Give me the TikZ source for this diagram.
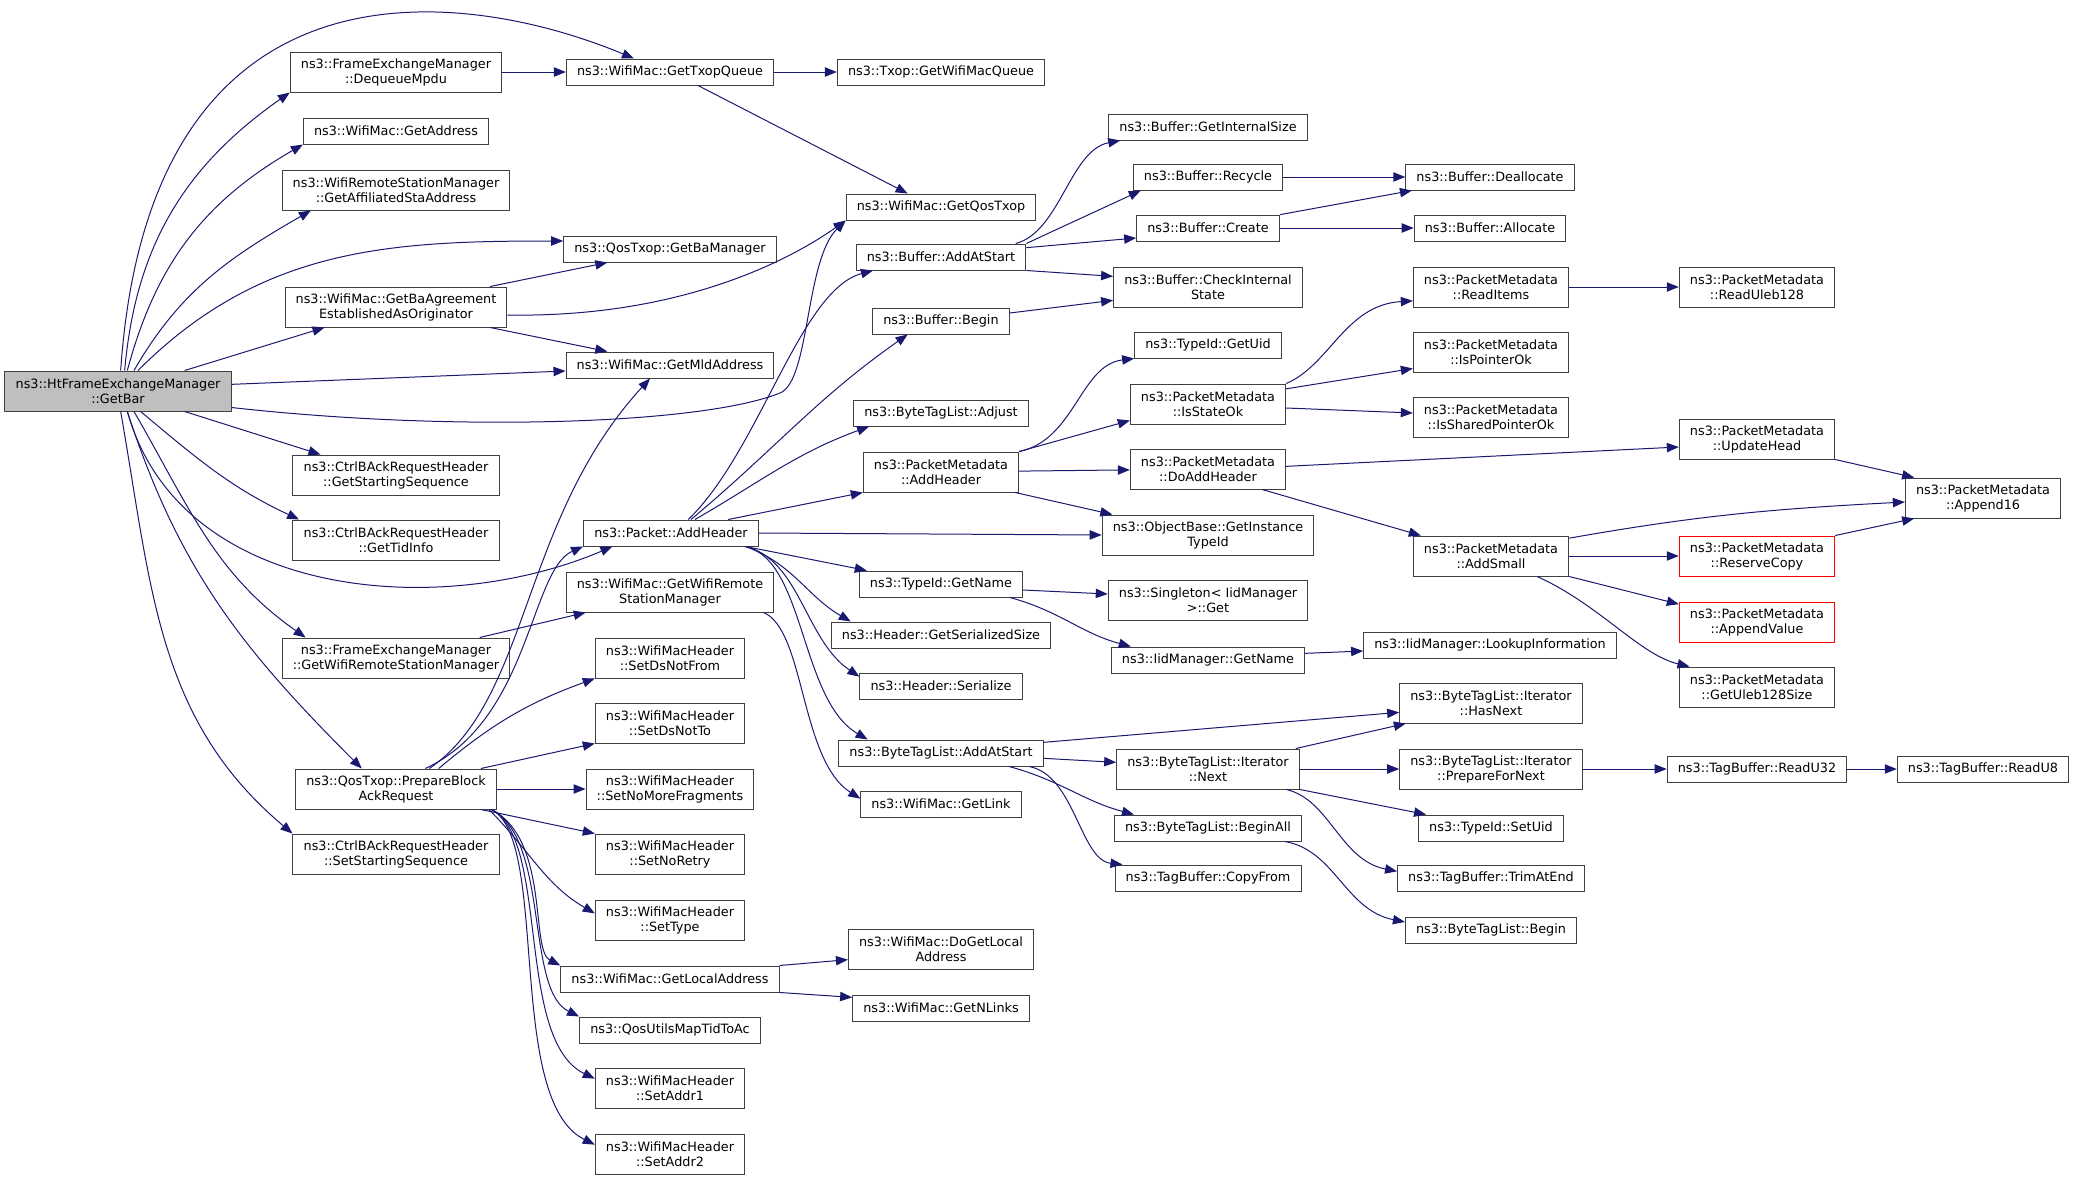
\documentclass[tikz,border=0pt]{standalone}
\usepackage{fontspec}
\setmainfont{DejaVu Sans}
\usetikzlibrary{arrows.meta}
\definecolor{edgeblue}{RGB}{25,25,112}
\definecolor{rootgray}{RGB}{191,191,191}
\newcommand\fnfont{\fontsize{9.6}{11.2}\selectfont}
\tikzset{
  fn/.style={draw=black!75, line width=0.75pt, fill=white, inner xsep=8pt, inner ysep=0pt, minimum height=19.5pt, align=center, font=\fnfont},
  fntwo/.style={fn, minimum height=30pt},
  rootfn/.style={fntwo, fill=rootgray},
  redfn/.style={fntwo, draw=red},
  call/.style={draw=edgeblue, line width=0.75pt, -{Triangle[length=9pt,width=7pt]}},
}

\begin{document}
\begin{tikzpicture}[x=0.75pt, y=-0.75pt]
			%%%%% START %%%%%
			\useasboundingbox (0,0) rectangle (2075,1178);

			\node[rootfn] (getbar) at (118,391) {ns3::HtFrameExchangeManager\\::GetBar};

			\node[fntwo] (dequeue) at (396,72) {ns3::FrameExchangeManager\\::DequeueMpdu};
			\node[fn] (getaddr) at (396,131) {ns3::WifiMac::GetAddress};
			\node[fntwo] (affil) at (396,190) {ns3::WifiRemoteStationManager\\::GetAffiliatedStaAddress};
			\node[fntwo] (baagr) at (396,307) {ns3::WifiMac::GetBaAgreement\\EstablishedAsOriginator};
			\node[fntwo] (getstart) at (396,475) {ns3::CtrlBAckRequestHeader\\::GetStartingSequence};
			\node[fntwo] (gettid) at (396,540) {ns3::CtrlBAckRequestHeader\\::GetTidInfo};
			\node[fntwo] (femwrsm) at (396,658) {ns3::FrameExchangeManager\\::GetWifiRemoteStationManager};
			\node[fntwo] (prepbar) at (396,789) {ns3::QosTxop::PrepareBlock\\AckRequest};
			\node[fntwo] (setstart) at (396,854) {ns3::CtrlBAckRequestHeader\\::SetStartingSequence};

			\node[fn] (txopq) at (670,72) {ns3::WifiMac::GetTxopQueue};
			\node[fn] (bamgr) at (670,249) {ns3::QosTxop::GetBaManager};
			\node[fn] (mldaddr) at (670,365) {ns3::WifiMac::GetMldAddress};
			\node[fn] (pktadd) at (671,533) {ns3::Packet::AddHeader};
			\node[fntwo] (macwrsm) at (670,592) {ns3::WifiMac::GetWifiRemote\\StationManager};
			\node[fntwo] (dsfrom) at (670,658) {ns3::WifiMacHeader\\::SetDsNotFrom};
			\node[fntwo] (dsto) at (670,723) {ns3::WifiMacHeader\\::SetDsNotTo};
			\node[fntwo] (nomore) at (670,789) {ns3::WifiMacHeader\\::SetNoMoreFragments};
			\node[fntwo] (noretry) at (670,854) {ns3::WifiMacHeader\\::SetNoRetry};
			\node[fntwo] (settype) at (670,920) {ns3::WifiMacHeader\\::SetType};
			\node[fn] (localaddr) at (670,979) {ns3::WifiMac::GetLocalAddress};
			\node[fn] (maptid) at (670,1030) {ns3::QosUtilsMapTidToAc};
			\node[fntwo] (addr1) at (670,1088) {ns3::WifiMacHeader\\::SetAddr1};
			\node[fntwo] (addr2) at (670,1154) {ns3::WifiMacHeader\\::SetAddr2};

			\node[fn] (macq) at (941,72) {ns3::Txop::GetWifiMacQueue};
			\node[fn] (qostxop) at (941,207) {ns3::WifiMac::GetQosTxop};
			\node[fn] (bufadd) at (941,257) {ns3::Buffer::AddAtStart};
			\node[fn] (bufbegin) at (941,321) {ns3::Buffer::Begin};
			\node[fn] (adjust) at (941,413) {ns3::ByteTagList::Adjust};
			\node[fntwo] (pmadd) at (941,472) {ns3::PacketMetadata\\::AddHeader};
			\node[fn] (getname) at (941,584) {ns3::TypeId::GetName};
			\node[fn] (sersize) at (941,635) {ns3::Header::GetSerializedSize};
			\node[fn] (serialize) at (941,686) {ns3::Header::Serialize};
			\node[fn] (btladd) at (941,753) {ns3::ByteTagList::AddAtStart};
			\node[fn] (getlink) at (941,804) {ns3::WifiMac::GetLink};
			\node[fntwo] (dolocal) at (941,949) {ns3::WifiMac::DoGetLocal\\Address};
			\node[fn] (nlinks) at (941,1008) {ns3::WifiMac::GetNLinks};

			\node[fn] (intsize) at (1208,127) {ns3::Buffer::GetInternalSize};
			\node[fn] (recycle) at (1208,177) {ns3::Buffer::Recycle};
			\node[fn] (create) at (1208,228) {ns3::Buffer::Create};
			\node[fntwo] (checkst) at (1208,287) {ns3::Buffer::CheckInternal\\State};
			\node[fn] (getuid) at (1208,345) {ns3::TypeId::GetUid};
			\node[fntwo] (stateok) at (1208,404) {ns3::PacketMetadata\\::IsStateOk};
			\node[fntwo] (doadd) at (1208,469) {ns3::PacketMetadata\\::DoAddHeader};
			\node[fntwo] (insttype) at (1208,535) {ns3::ObjectBase::GetInstance\\TypeId};
			\node[fntwo] (singget) at (1208,600) {ns3::Singleton< IidManager\\>::Get};
			\node[fn] (iidname) at (1208,660) {ns3::IidManager::GetName};
			\node[fntwo] (itnext) at (1208,769) {ns3::ByteTagList::Iterator\\::Next};
			\node[fn] (beginall) at (1208,828) {ns3::ByteTagList::BeginAll};
			\node[fn] (copyfrom) at (1208,878) {ns3::TagBuffer::CopyFrom};

			\node[fn] (dealloc) at (1490,177) {ns3::Buffer::Deallocate};
			\node[fn] (alloc) at (1490,228) {ns3::Buffer::Allocate};
			\node[fntwo] (readitems) at (1491,287) {ns3::PacketMetadata\\::ReadItems};
			\node[fntwo] (ptrok) at (1491,352) {ns3::PacketMetadata\\::IsPointerOk};
			\node[fntwo] (sharedok) at (1491,417) {ns3::PacketMetadata\\::IsSharedPointerOk};
			\node[fntwo] (addsmall) at (1491,556) {ns3::PacketMetadata\\::AddSmall};
			\node[fn] (lookup) at (1490,645) {ns3::IidManager::LookupInformation};
			\node[fntwo] (hasnext) at (1491,703) {ns3::ByteTagList::Iterator\\::HasNext};
			\node[fntwo] (prepnext) at (1491,769) {ns3::ByteTagList::Iterator\\::PrepareForNext};
			\node[fn] (setuid) at (1491,828) {ns3::TypeId::SetUid};
			\node[fn] (trim) at (1491,878) {ns3::TagBuffer::TrimAtEnd};
			\node[fn] (btlbegin) at (1491,930) {ns3::ByteTagList::Begin};

			\node[fntwo] (uleb) at (1757,287) {ns3::PacketMetadata\\::ReadUleb128};
			\node[fntwo] (updhead) at (1757,439) {ns3::PacketMetadata\\::UpdateHead};
			\node[redfn] (reserve) at (1757,556) {ns3::PacketMetadata\\::ReserveCopy};
			\node[redfn] (appval) at (1757,622) {ns3::PacketMetadata\\::AppendValue};
			\node[fntwo] (ulebsize) at (1757,687) {ns3::PacketMetadata\\::GetUleb128Size};
			\node[fn] (readu32) at (1757,769) {ns3::TagBuffer::ReadU32};

			\node[fntwo] (append16) at (1983,498) {ns3::PacketMetadata\\::Append16};
			\node[fn] (readu8) at (1983,769) {ns3::TagBuffer::ReadU8};

			% calls of GetBar
			\draw[call] ([xshift=2pt]getbar.north) .. controls (150,-60) and (470,-10) .. ([xshift=-27pt]txopq.north);
			\draw[call] ([xshift=5pt]getbar.north) to[out=85,in=215] (dequeue.south west);
			\draw[call] ([xshift=7pt]getbar.north) to[out=75,in=210] (getaddr.south west);
			\draw[call] ([xshift=12pt]getbar.north) to[out=60,in=210] ([xshift=22pt]affil.south west);
			\draw[call] ([xshift=15pt]getbar.north) to[out=45,in=180] ([yshift=6pt]bamgr.west);
			\draw[call] ([xshift=50pt]getbar.north) -- ([xshift=30pt]baagr.south west);
			\draw[call] ([yshift=5pt]getbar.east) -- ([yshift=-4.5pt]mldaddr.west);
			\draw[call] ([yshift=3pt]getbar.south east) .. controls (450,432) and (700,425) .. (780,393) .. controls (810,381) and (805,260) .. (qostxop.south west);
			\draw[call] ([xshift=50pt]getbar.south) -- ([xshift=21pt]getstart.north west);
			\draw[call] ([xshift=17pt]getbar.south) to[out=-40,in=155] ([xshift=5pt]gettid.north west);
			\draw[call] ([xshift=7pt]getbar.south) .. controls (180,600) and (440,620) .. ([xshift=22pt]pktadd.south west);
			\draw[call] ([xshift=12pt]getbar.south) to[out=-60,in=145] ([xshift=18pt]femwrsm.north west);
			\draw[call] ([xshift=7pt]getbar.south) to[out=-72,in=135] ([xshift=50pt]prepbar.north west);
			\draw[call] ([xshift=2pt]getbar.south) to[out=-80,in=140] (setstart.north west);

			% second column
			\draw[call] (dequeue) -- (txopq);
			\draw[call] ([xshift=-13pt]baagr.north east) -- ([xshift=-47pt]bamgr.south);
			\draw[call] ([yshift=-6pt]baagr.east) .. controls (680,318) and (790,260) .. (qostxop.south west);
			\draw[call] ([xshift=-13pt]baagr.south east) -- ([xshift=-47pt]mldaddr.north);
			\draw[call] ([xshift=-23pt]femwrsm.north east) -- ([xshift=15pt]macwrsm.south west);

			\draw[call] ([xshift=25pt]prepbar.north) .. controls (530,700) and (520,520) .. ([xshift=-15pt]mldaddr.south);
			\draw[call] ([xshift=22pt]prepbar.north) .. controls (530,720) and (530,570) .. (pktadd.south west);
			\draw[call] ([xshift=32pt]prepbar.north) to[out=40,in=200] (dsfrom.south west);
			\draw[call] ([xshift=-12pt]prepbar.north east) -- (dsto.south west);
			\draw[call] (prepbar) -- (nomore);
			\draw[call] ([xshift=-12pt]prepbar.south east) -- (noretry.north west);
			\draw[call] ([xshift=-6pt]prepbar.south east) to[out=-45,in=150] ([yshift=5pt]settype.west);
			\draw[call] ([xshift=-4pt]prepbar.south east) .. controls (550,840) and (530,950) .. (localaddr.north west);
			\draw[call] ([xshift=-4pt]prepbar.south east) .. controls (550,840) and (525,990) .. (maptid.north west);
			\draw[call] ([xshift=-4pt]prepbar.south east) .. controls (550,840) and (515,1040) .. ([yshift=7pt]addr1.west);
			\draw[call] ([xshift=-4pt]prepbar.south east) .. controls (550,840) and (505,1100) .. ([yshift=7pt]addr2.west);

			% third column
			\draw[call] (txopq) -- (macq);
			\draw[call] ([xshift=21pt]txopq.south) -- ([xshift=-25pt]qostxop.north);
			\draw[call] ([xshift=-8pt]macwrsm.south east) .. controls (805,630) and (800,760) .. ([yshift=4pt]getlink.west);

			\draw[call] ([xshift=13pt]pktadd.north) .. controls (760,450) and (800,290) .. ([xshift=13pt]bufadd.south west);
			\draw[call] ([xshift=15pt]pktadd.north) to[out=40,in=215] ([xshift=-25pt]bufbegin.south);
			\draw[call] ([xshift=18pt]pktadd.north) to[out=30,in=200] ([xshift=12pt]adjust.south west);
			\draw[call] ([xshift=-23pt]pktadd.north east) -- (pmadd.south west);
			\draw[call] (pktadd.east) -- (insttype.west);
			\draw[call] ([xshift=-10pt]pktadd.south east) -- ([xshift=6pt]getname.north west);
			\draw[call] ([xshift=-10pt]pktadd.south east) to[out=-20,in=150] ([xshift=15pt]sersize.north west);
			\draw[call] ([xshift=-10pt]pktadd.south east) .. controls (800,560) and (805,640) .. ([yshift=7pt]serialize.west);
			\draw[call] ([xshift=-10pt]pktadd.south east) .. controls (805,560) and (800,700) .. ([xshift=22pt]btladd.north west);

			\draw[call] (localaddr.north east) -- ([yshift=-8pt]dolocal.west);
			\draw[call] (localaddr.south east) -- ([yshift=8pt]nlinks.west);

			% fourth column
			\draw[call] ([xshift=-8pt]bufadd.north east) .. controls (1060,232) and (1070,150) .. ([xshift=9pt]intsize.south west);
			\draw[call] (bufadd.north east) to[out=25,in=205] ([xshift=6pt]recycle.south west);
			\draw[call] ([yshift=7pt]bufadd.east) -- ([yshift=-7.5pt]create.west);
			\draw[call] (bufadd.south east) -- ([yshift=8pt]checkst.west);
			\draw[call] ([yshift=6pt]bufbegin.east) -- ([yshift=-10pt]checkst.west);

			\draw[call] (pmadd.north east) .. controls (1075,440) and (1080,365) .. (getuid.south west);
			\draw[call] (pmadd.north east) -- ([yshift=3pt]stateok.south west);
			\draw[call] (pmadd) -- (doadd);
			\draw[call] ([xshift=-3pt]pmadd.south east) -- ([xshift=8pt]insttype.north west);

			\draw[call] ([yshift=-4.5pt]getname.east) -- ([yshift=4.5pt]singget.west);
			\draw[call] ([xshift=-10pt]getname.south east) to[out=-15,in=165] ([xshift=15pt]iidname.north west);

			\draw[call] ([yshift=8pt]btladd.east) -- ([yshift=-7pt]hasnext.west);
			\draw[call] ([yshift=-4pt]btladd.east) -- ([yshift=5pt]itnext.west);
			\draw[call] ([xshift=-26pt]btladd.south east) to[out=-15,in=165] ([xshift=15pt]beginall.north west);
			\draw[call] ([xshift=-11pt]btladd.south east) .. controls (1075,775) and (1080,860) .. ([xshift=6pt]copyfrom.north west);

			% fifth column
			\draw[call] (recycle) -- (dealloc);
			\draw[call] ([yshift=10pt]create.east) -- ([xshift=5pt]dealloc.south west);
			\draw[call] (create) -- (alloc);

			\draw[call] (stateok.north east) .. controls (1330,365) and (1345,305) .. ([yshift=5pt]readitems.south west);
			\draw[call] ([yshift=-4pt]stateok.north east) -- ([yshift=3pt]ptrok.south west);
			\draw[call] ([yshift=-3pt]stateok.east) -- ([yshift=3pt]sharedok.west);
			\draw[call] ([yshift=2pt]doadd.east) -- ([yshift=-6pt]updhead.west);
			\draw[call] ([xshift=-18pt]doadd.south east) -- ([xshift=6pt]addsmall.north west);

			\draw[call] ([yshift=5pt]iidname.east) -- ([yshift=-4.5pt]lookup.west);

			\draw[call] ([xshift=-3pt]itnext.north east) -- ([xshift=5pt]hasnext.south west);
			\draw[call] (itnext) -- (prepnext);
			\draw[call] (itnext.south east) -- ([xshift=6pt]setuid.north west);
			\draw[call] ([xshift=-10pt]itnext.south east) .. controls (1330,800) and (1340,860) .. ([yshift=5pt]trim.west);
			\draw[call] ([xshift=-13pt]beginall.south east) .. controls (1335,850) and (1345,910) .. ([yshift=6pt]btlbegin.west);

			% last columns
			\draw[call] (readitems) -- (uleb);
			\draw[call] (updhead.south east) -- ([xshift=7pt]append16.north west);
			\draw[call] ([yshift=-2pt]addsmall.north east) to[out=10,in=183] ([yshift=-3pt]append16.west);
			\draw[call] (addsmall) -- (reserve);
			\draw[call] (addsmall.south east) -- ([yshift=-2pt]appval.north west);
			\draw[call] ([xshift=-24pt]addsmall.south east) .. controls (1600,605) and (1640,655) .. ([xshift=8pt]ulebsize.north west);
			\draw[call] (reserve.north east) -- ([xshift=7pt]append16.south west);
			\draw[call] (prepnext) -- (readu32);
			\draw[call] (readu32) -- (readu8);

			%%%%% END %%%%%
\end{tikzpicture}
\end{document}
